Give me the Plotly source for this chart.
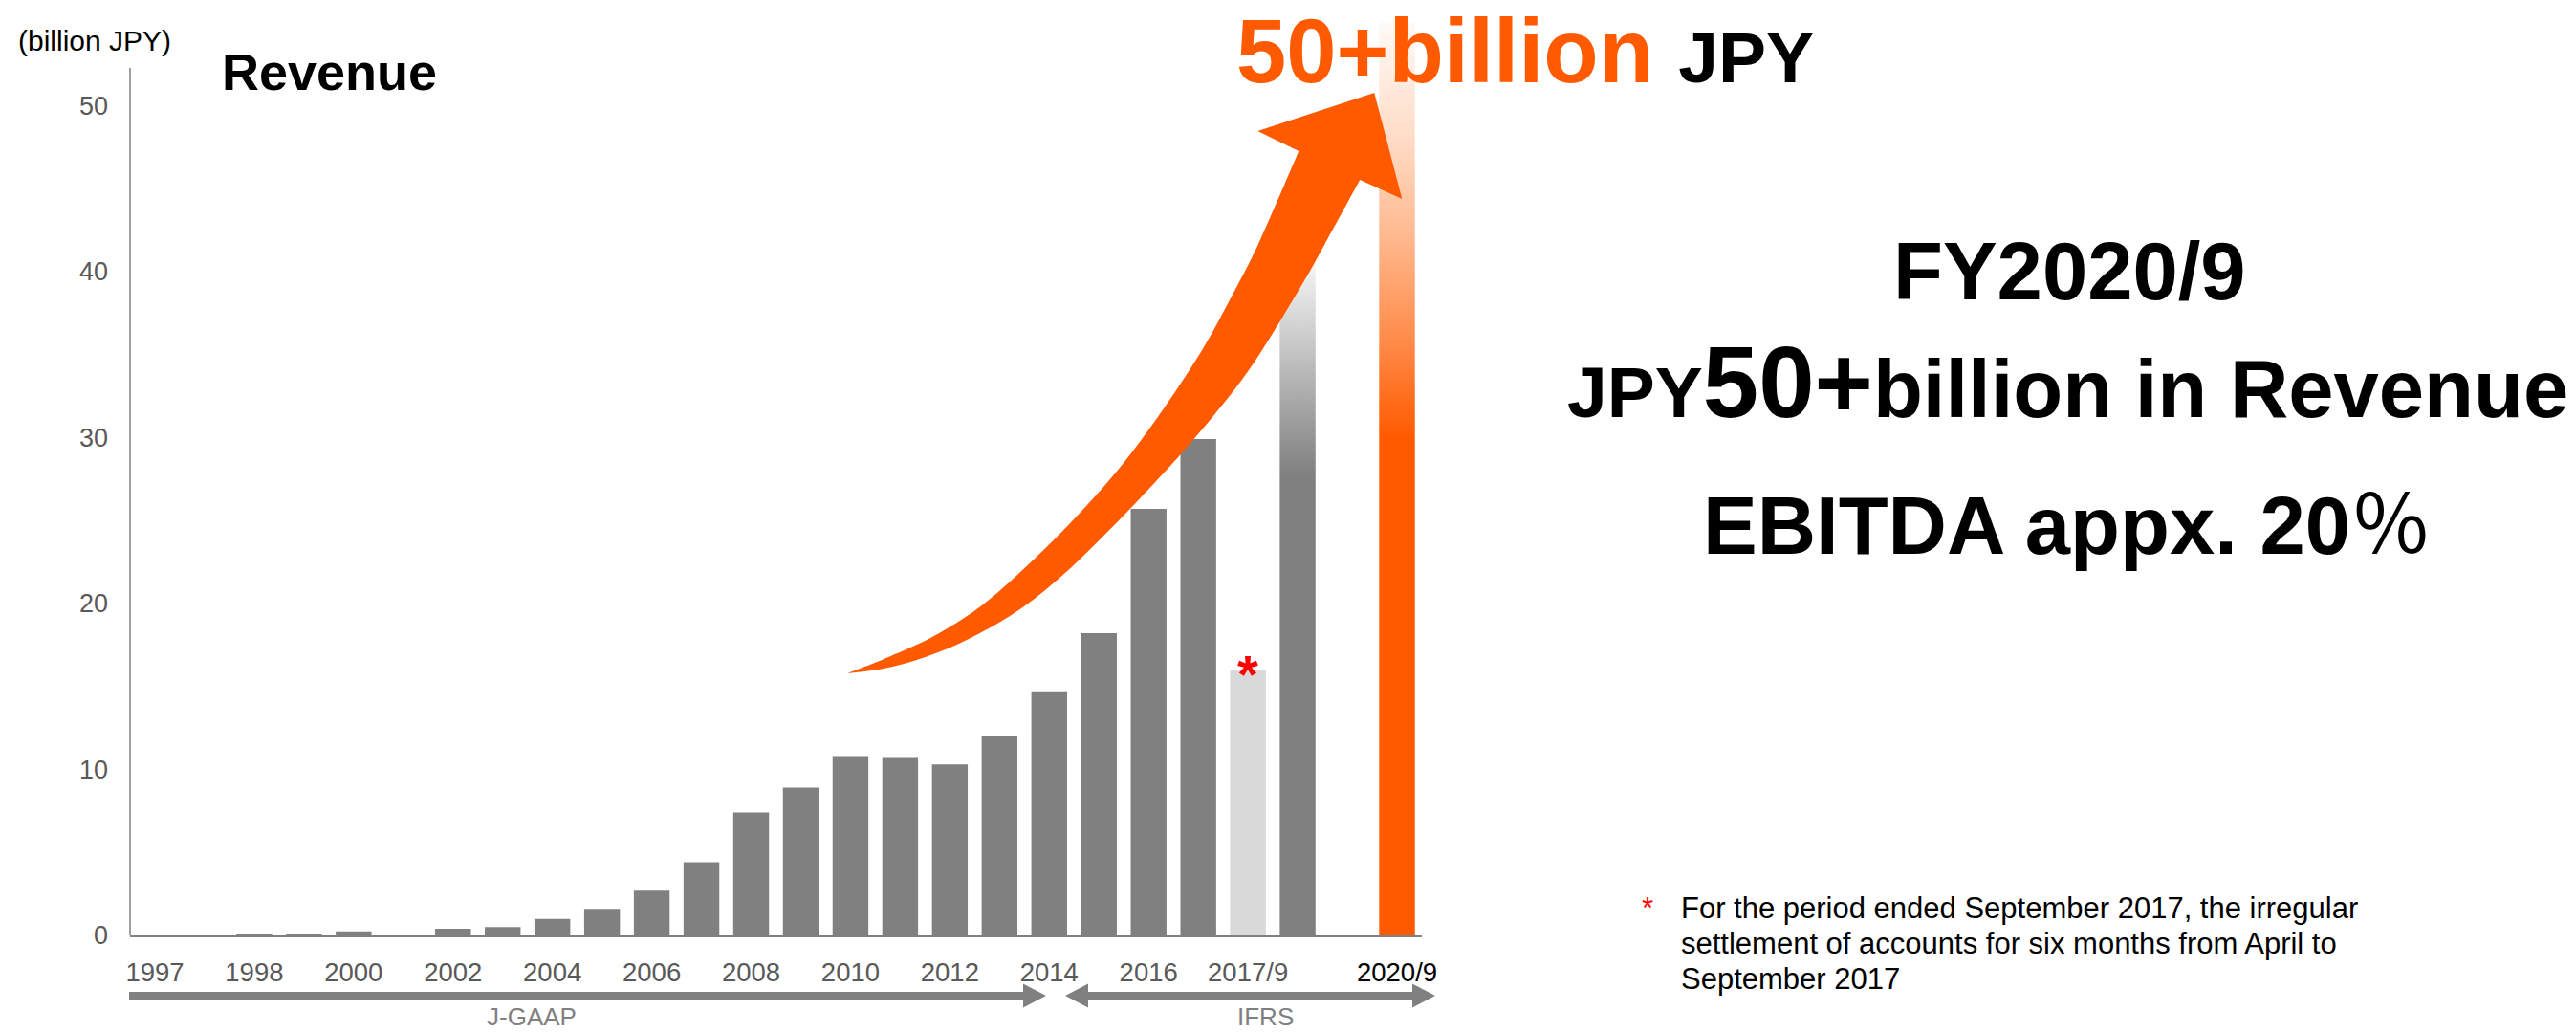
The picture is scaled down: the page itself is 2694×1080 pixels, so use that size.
import plotly.graph_objects as go

# ---------------- data (billion JPY) ----------------
periods = ["1997", "1997H2", "1998", "1999", "2000", "2001", "2002", "2003", "2004",
           "2005", "2006", "2007", "2008", "2009", "2010", "2011", "2012", "2013",
           "2014", "2015", "2016", "2017", "2017/9", "2018/9", "2019/9", "2020/9"]
revenue = [0, 0, 0.1, 0.12, 0.25, 0, 0.4, 0.5, 1.0, 1.6, 2.7, 4.4, 7.4, 8.9,
           10.8, 10.75, 10.3, 12.0, 14.7, 18.2, 25.7, 29.9, 16.0, None, None, None]
tick_labels = ["1997", "", "1998", "", "2000", "", "2002", "", "2004", "", "2006", "",
               "2008", "", "2010", "", "2012", "", "2014", "", "2016", "", "2017/9",
               "", "", "2020/9"]
irregular_period = "2017/9"          # six-month settlement (footnote *)
plan_periods = ["2018/9", "2020/9"]  # forward-looking bars, drawn with fades
plan_values = [41.0, 55.0]
y_ticks = [0, 10, 20, 30, 40, 50]

# ---------------- styling ----------------
GREY = "#808080"
LIGHT = "#D9D9D9"
ORANGE = "#FF5A00"
TICK_GREY = "#595959"
FONT = "Liberation Sans, Arial, sans-serif"

W, H = 2694, 1080
M_L, M_R, M_B = 136, 1207, 102
PLOT_W = W - M_L - M_R
PLOT_H = H - M_B
Y_TOP = 56.34          # value at the top edge of the page
AXIS_TOP = 52.25       # where the vertical axis line stops
BAR_W = 0.72


def xp(px):
    """page pixel -> paper x"""
    return (px - M_L) / PLOT_W


def yp(py):
    """page pixel -> paper y"""
    return (PLOT_H - py) / PLOT_H


slots = list(range(len(periods)))
bar_colors = [LIGHT if p == irregular_period else GREY for p in periods]

fig = go.Figure()
fig.add_trace(go.Bar(
    x=slots, y=revenue, width=BAR_W, marker=dict(color=bar_colors, line=dict(width=0)),
    hoverinfo="x+y", showlegend=False,
))

# faded plan bars
fades = {
    "2018/9": [[0, GREY], [0.676, GREY], [0.84, "#BDBDBD"], [1, "#FAFAFA"]],
    "2020/9": [[0, ORANGE], [0.545, ORANGE], [0.655, "#FF8D4C"], [0.764, "#FFB88E"],
               [0.873, "#FFDCC6"], [1, "#FFFAF7"]],
}
for p, v in zip(plan_periods, plan_values):
    i = periods.index(p)
    x0, x1 = i - BAR_W / 2, i + BAR_W / 2
    fig.add_trace(go.Scatter(
        x=[x0, x1, x1, x0, x0], y=[0, 0, v, v, 0], mode="none", fill="toself",
        fillgradient=dict(type="vertical", colorscale=fades[p], start=0, stop=v),
        hoverinfo="skip", showlegend=False,
    ))


# ---------------- growth arrow (axis units) ----------------
def catmull_rom(points):
    pts = [points[0]] + points + [points[-1]]
    cmds = []
    for k in range(1, len(pts) - 2):
        p0, p1, p2, p3 = pts[k - 1], pts[k], pts[k + 1], pts[k + 2]
        c1 = (p1[0] + (p2[0] - p0[0]) / 6, p1[1] + (p2[1] - p0[1]) / 6)
        c2 = (p2[0] - (p3[0] - p1[0]) / 6, p2[1] - (p3[1] - p1[1]) / 6)
        cmds.append(f"C {c1[0]:.3f},{c1[1]:.3f} {c2[0]:.3f},{c2[1]:.3f} {p2[0]:.3f},{p2[1]:.3f}")
    return " ".join(cmds)


arrow_tail = (13.937, 15.783)
arrow_upper = [arrow_tail, (14.765, 16.763), (15.785, 18.203), (16.882, 20.449),
               (18.364, 24.654), (19.654, 29.061), (20.944, 34.620), (21.771, 39.055),
               (22.253, 41.935), (23.023, 47.235)]
arrow_head = [(22.195, 48.445), (24.543, 50.749), (25.101, 44.355), (24.254, 45.507)]
arrow_lower = [(24.254, 45.507), (23.600, 41.935), (23.061, 39.055), (22.003, 33.986),
               (20.944, 30.012), (20.116, 27.247), (19.288, 24.654), (18.364, 21.947),
               (17.440, 19.700), (16.420, 17.915), (15.506, 16.763), (14.668, 16.071),
               arrow_tail]

arrow_path = f"M {arrow_tail[0]},{arrow_tail[1]} " + catmull_rom(arrow_upper)
arrow_path += " " + " ".join(f"L {x},{y}" for x, y in arrow_head)
arrow_path += " " + catmull_rom(arrow_lower) + " Z"

shapes = [
    dict(type="path", xref="x", yref="y", path=arrow_path, fillcolor=ORANGE,
         line=dict(width=0), layer="above"),
    # vertical axis line
    dict(type="line", xref="paper", yref="paper", x0=0, x1=0, y0=0, y1=AXIS_TOP / Y_TOP,
         line=dict(color=GREY, width=1.5)),
]


# accounting-standard span arrows under the axis (page pixels -> paper)
def span_arrow(x_left, x_right, left_head, right_head, yc=1041, shaft=8, head_h=25, head_l=24):
    a, b = x_left + (head_l if left_head else 0), x_right - (head_l if right_head else 0)
    pts = []
    if left_head:
        pts += [(x_left, yc), (a, yc - head_h / 2), (a, yc - shaft / 2)]
    else:
        pts += [(x_left, yc - shaft / 2)]
    if right_head:
        pts += [(b, yc - shaft / 2), (b, yc - head_h / 2), (x_right, yc),
                (b, yc + head_h / 2), (b, yc + shaft / 2)]
    else:
        pts += [(x_right, yc - shaft / 2), (x_right, yc + shaft / 2)]
    if left_head:
        pts += [(a, yc + shaft / 2), (a, yc + head_h / 2)]
    else:
        pts += [(x_left, yc + shaft / 2)]
    return "M " + " L ".join(f"{xp(x):.5f},{yp(y):.5f}" for x, y in pts) + " Z"


shapes.append(dict(type="path", xref="paper", yref="paper", fillcolor=GREY, line=dict(width=0),
                   path=span_arrow(135, 1094, False, True)))
shapes.append(dict(type="path", xref="paper", yref="paper", fillcolor=GREY, line=dict(width=0),
                   path=span_arrow(1114, 1501, True, True)))


def note(px, py, text, size, color="#000000", xanchor="left"):
    return dict(xref="paper", yref="paper", x=xp(px), y=yp(py), xanchor=xanchor,
                yanchor="middle", text=text, showarrow=False, borderpad=0,
                font=dict(family=FONT, size=size, color=color))


annotations = [
    note(18, 42.6, "(billion JPY)", 30),
    note(231, 75.3, "<b>Revenue</b>", 54),
    note(1292, 53.4, f"<b><span style=\"color:{ORANGE}\">50+billion </span>"
                     "<span style=\"font-size:75px\">JPY</span></b>", 94),
    note(2164, 283.5, "<b>FY2020/9</b>", 85, xanchor="center"),
    note(2162, 399.6, "<b><span style=\"font-size:75px\">JPY</span>50+"
                      "<span style=\"font-size:85px\">billion in Revenue</span></b>", 105,
         xanchor="center"),
    note(2162, 541, "<b>EBITDA appx. 20</b>"
                    "<span style=\"font-family:'Noto Sans CJK JP'\">％</span>", 85,
         xanchor="center"),
    note(556, 1063, "J-GAAP", 26, color="#7F7F7F", xanchor="center"),
    note(1323, 1063, "IFRS", 26, color="#7F7F7F", xanchor="center"),
    note(1716, 949.3, "*", 31, color="#FF0000"),
]
footnote_lines = ["For the period ended September 2017, the irregular",
                  "settlement of accounts for six months from April to",
                  "September 2017"]
for k, line in enumerate(footnote_lines):
    annotations.append(note(1757, 949.3 + 37 * k, line, 31))

# asterisk flag on the irregular period bar
k_irr = periods.index(irregular_period)
annotations.append(dict(x=k_irr, y=revenue[k_irr], xref="x", yref="y", text="<b>*</b>",
                        showarrow=False, xanchor="center", yanchor="middle", yshift=-4,
                        font=dict(family=FONT, size=56, color="#FF0000")))

ticktext = [f"<span style=\"color:#000000\">{t}</span>" if t == "2020/9" else t
            for t in tick_labels]

fig.update_layout(
    width=W, height=H,
    margin=dict(l=M_L, r=M_R, t=0, b=M_B, pad=0),
    paper_bgcolor="white", plot_bgcolor="white",
    bargap=0.28, showlegend=False,
    font=dict(family=FONT),
    xaxis=dict(range=[-0.5, len(periods) - 0.5], tickmode="array", tickvals=slots,
               ticktext=ticktext, showline=True, linecolor=GREY, linewidth=1.5,
               ticks="", showgrid=False, zeroline=False, ticklabelstandoff=13,
               tickfont=dict(family=FONT, size=27.5, color=TICK_GREY), fixedrange=True),
    yaxis=dict(range=[0, Y_TOP], tickmode="array", tickvals=y_ticks, showline=False,
               ticks="", showgrid=False, zeroline=False, ticklabelstandoff=22,
               tickfont=dict(family=FONT, size=27, color=TICK_GREY), fixedrange=True),
    shapes=shapes, annotations=annotations,
)

fig.write_html("out.html")
